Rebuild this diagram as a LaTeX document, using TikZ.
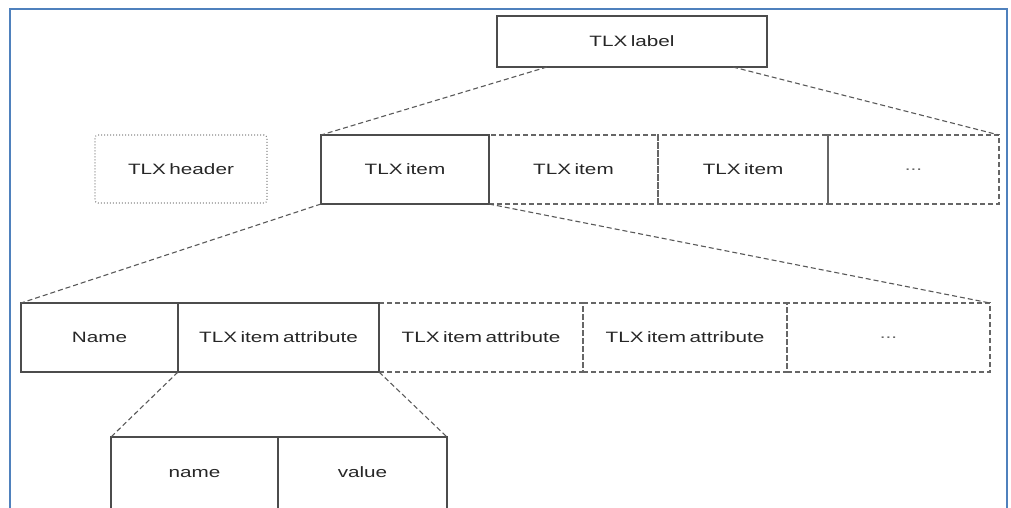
\documentclass[tikz,border=0pt]{standalone}
\usepackage{fontspec}
\setmainfont{Liberation Sans}
\newfontfamily\diafont[FakeStretch=1.38,WordSpace=0.6]{Liberation Sans}
\usetikzlibrary{calc}
\definecolor{frameblue}{RGB}{79,129,189}
\tikzset{
  cell/.style={rectangle, anchor=north west, inner sep=0pt, outer sep=0pt,
    font=\diafont\fontsize{15}{18}\selectfont, text=black!85},
  solidcell/.style={cell, draw=black!70, line width=1.3pt},
  dashcell/.style={cell, draw=black!60, line width=1.1pt, dash pattern=on 5pt off 3pt},
  dotcell/.style={cell, draw=black!45, line width=1.1pt, dash pattern=on 1pt off 2pt, rounded corners=3pt},
  link/.style={draw=black!65, line width=1.1pt, dash pattern=on 5pt off 3pt},
  frameline/.style={draw=frameblue, line width=2.5pt},
  dots/.style={text=black!60}
}
\begin{document}
\begin{tikzpicture}[x=1pt,y=-1pt]
\useasboundingbox (0,0) rectangle (1011,507);
% frame
\draw[frameline] (10,520) -- (10,9) -- (1007,9) -- (1007,520);
% top
\node[solidcell, minimum width=270pt, minimum height=51pt] (label) at (497,16) {TLX label};
% row 2
\node[dotcell, minimum width=172pt, minimum height=68pt] (header) at (95,135) {TLX header};
\node[dashcell, minimum width=169pt, minimum height=69pt] (item2) at (489,135) {TLX item};
\node[dashcell, minimum width=170pt, minimum height=69pt] (item3) at (658,135) {TLX item};
\node[dashcell, minimum width=171pt, minimum height=69pt, dots] (itemdots) at (828,135) {...};
\node[solidcell, minimum width=168pt, minimum height=69pt] (item1) at (321,135) {TLX item};
% row 3
\node[dashcell, minimum width=204pt, minimum height=69pt] (attr2) at (379,303) {TLX item attribute};
\node[dashcell, minimum width=204pt, minimum height=69pt] (attr3) at (583,303) {TLX item attribute};
\node[dashcell, minimum width=203pt, minimum height=69pt, dots] (attrdots) at (787,303) {...};
\node[solidcell, minimum width=157pt, minimum height=69pt] (name) at (21,303) {Name};
\node[solidcell, minimum width=201pt, minimum height=69pt] (attr1) at (178,303) {TLX item attribute};
% row 4
\node[solidcell, minimum width=167pt, minimum height=100pt] (nm) at (111,437) {};
\node[solidcell, minimum width=169pt, minimum height=100pt] (val) at (278,437) {};
\node[cell, anchor=base] (nmtext) at ($(nm.north)+(0,40)$) {name};
\node[cell, anchor=base] (valtext) at ($(val.north)+(0,40)$) {value};
% connectors
\draw[link] ($(label.south west)!0.185!(label.south east)$) -- (item1.north west);
\draw[link] ($(label.south west)!0.874!(label.south east)$) -- (itemdots.north east);
\draw[link] (item1.south west) -- (name.north west);
\draw[link] (item1.south east) -- (attrdots.north east);
\draw[link] (attr1.south west) -- (nm.north west);
\draw[link] (attr1.south east) -- (val.north east);
\end{tikzpicture}
\end{document}
